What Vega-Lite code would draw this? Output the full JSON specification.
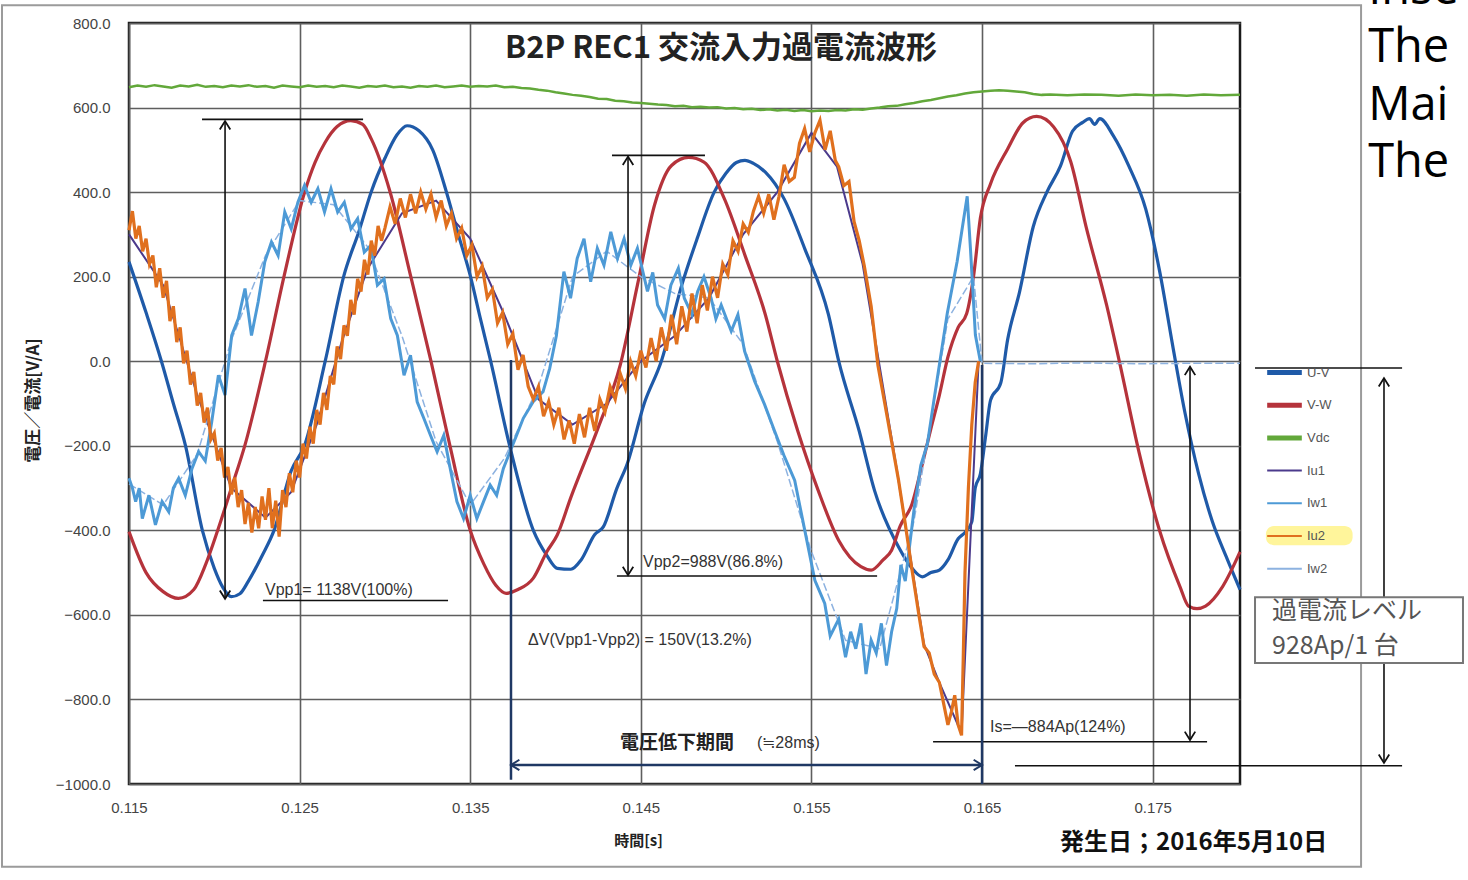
{
"$schema":"https://vega.github.io/schema/vega-lite/v6.json",
"width":1111,"height":761,
"autosize":{"type":"none"},
"padding":{"left":129,"top":23,"right":228,"bottom":96},
"background":"white",
"config":{
 "view":{"stroke":"#1a1a1a","strokeWidth":2.5},
 "axis":{"gridColor":"#5e5e5e","gridWidth":1.6,"gridOpacity":1,"ticks":false,"domain":false,"labelFont":"Liberation Sans","labelFontSize":15,"labelColor":"#444"}
},
"datasets":{
"w":[
{"s":"U-V","t":0.115,"v":235},{"s":"U-V","t":0.116,"v":115},{"s":"U-V","t":0.1169,"v":0},{"s":"U-V","t":0.1176,"v":-100},{"s":"U-V","t":0.1183,"v":-198},{"s":"U-V","t":0.1193,"v":-400},{"s":"U-V","t":0.12,"v":-490},{"s":"U-V","t":0.1205,"v":-535},{"s":"U-V","t":0.121,"v":-557},{"s":"U-V","t":0.1215,"v":-550},{"s":"U-V","t":0.122,"v":-520},{"s":"U-V","t":0.1228,"v":-460},{"s":"U-V","t":0.1235,"v":-400},{"s":"U-V","t":0.1245,"v":-260},{"s":"U-V","t":0.1253,"v":-198},{"s":"U-V","t":0.1265,"v":0},{"s":"U-V","t":0.1276,"v":203},{"s":"U-V","t":0.1285,"v":310},{"s":"U-V","t":0.1292,"v":401},{"s":"U-V","t":0.13,"v":480},{"s":"U-V","t":0.1307,"v":535},{"s":"U-V","t":0.1313,"v":557},{"s":"U-V","t":0.132,"v":545},{"s":"U-V","t":0.1328,"v":500},{"s":"U-V","t":0.1336,"v":401},{"s":"U-V","t":0.1343,"v":300},{"s":"U-V","t":0.135,"v":203},{"s":"U-V","t":0.1356,"v":100},{"s":"U-V","t":0.1362,"v":0},{"s":"U-V","t":0.1373,"v":-198},{"s":"U-V","t":0.1387,"v":-400},{"s":"U-V","t":0.1395,"v":-460},{"s":"U-V","t":0.1401,"v":-490},{"s":"U-V","t":0.1409,"v":-492},{"s":"U-V","t":0.1415,"v":-470},{"s":"U-V","t":0.1423,"v":-410},{"s":"U-V","t":0.1428,"v":-392},{"s":"U-V","t":0.1436,"v":-300},{"s":"U-V","t":0.1442,"v":-243},{"s":"U-V","t":0.1452,"v":-100},{"s":"U-V","t":0.1462,"v":0},{"s":"U-V","t":0.1474,"v":180},{"s":"U-V","t":0.1483,"v":290},{"s":"U-V","t":0.1493,"v":400},{"s":"U-V","t":0.15,"v":445},{"s":"U-V","t":0.1506,"v":470},{"s":"U-V","t":0.1511,"v":475},{"s":"U-V","t":0.1516,"v":468},{"s":"U-V","t":0.1523,"v":447},{"s":"U-V","t":0.1534,"v":384},{"s":"U-V","t":0.1546,"v":267},{"s":"U-V","t":0.156,"v":110},{"s":"U-V","t":0.1566,"v":0},{"s":"U-V","t":0.1578,"v":-165},{"s":"U-V","t":0.1587,"v":-306},{"s":"U-V","t":0.1601,"v":-439},{"s":"U-V","t":0.1609,"v":-490},{"s":"U-V","t":0.1615,"v":-510},{"s":"U-V","t":0.162,"v":-500},{"s":"U-V","t":0.1625,"v":-494},{"s":"U-V","t":0.163,"v":-470},{"s":"U-V","t":0.1636,"v":-420},{"s":"U-V","t":0.164,"v":-405},{"s":"U-V","t":0.1644,"v":-380},{"s":"U-V","t":0.1646,"v":-300},{"s":"U-V","t":0.1649,"v":-267},{"s":"U-V","t":0.1652,"v":-180},{"s":"U-V","t":0.1655,"v":-92},{"s":"U-V","t":0.1661,"v":-51},{"s":"U-V","t":0.1665,"v":51},{"s":"U-V","t":0.1672,"v":164},{"s":"U-V","t":0.168,"v":318},{"s":"U-V","t":0.1688,"v":400},{"s":"U-V","t":0.1696,"v":462},{"s":"U-V","t":0.1703,"v":544},{"s":"U-V","t":0.1709,"v":565},{"s":"U-V","t":0.1713,"v":574},{"s":"U-V","t":0.1716,"v":560},{"s":"U-V","t":0.1719,"v":574},{"s":"U-V","t":0.1727,"v":533},{"s":"U-V","t":0.1736,"v":462},{"s":"U-V","t":0.1746,"v":359},{"s":"U-V","t":0.1754,"v":215},{"s":"U-V","t":0.1762,"v":31},{"s":"U-V","t":0.1769,"v":-123},{"s":"U-V","t":0.1777,"v":-267},{"s":"U-V","t":0.1785,"v":-379},{"s":"U-V","t":0.1793,"v":-461},{"s":"U-V","t":0.18012,"v":-540},
{"s":"V-W","t":0.115,"v":-403},{"s":"V-W","t":0.116,"v":-500},{"s":"V-W","t":0.117,"v":-545},{"s":"V-W","t":0.1179,"v":-561},{"s":"V-W","t":0.1188,"v":-540},{"s":"V-W","t":0.1195,"v":-480},{"s":"V-W","t":0.1202,"v":-400},{"s":"V-W","t":0.121,"v":-300},{"s":"V-W","t":0.1218,"v":-198},{"s":"V-W","t":0.123,"v":0},{"s":"V-W","t":0.1241,"v":203},{"s":"V-W","t":0.1253,"v":401},{"s":"V-W","t":0.1259,"v":470},{"s":"V-W","t":0.1265,"v":518},{"s":"V-W","t":0.1272,"v":555},{"s":"V-W","t":0.128,"v":569},{"s":"V-W","t":0.1287,"v":560},{"s":"V-W","t":0.1292,"v":526},{"s":"V-W","t":0.1303,"v":401},{"s":"V-W","t":0.1315,"v":203},{"s":"V-W","t":0.1327,"v":0},{"s":"V-W","t":0.1338,"v":-198},{"s":"V-W","t":0.135,"v":-400},{"s":"V-W","t":0.1358,"v":-480},{"s":"V-W","t":0.1365,"v":-530},{"s":"V-W","t":0.1371,"v":-549},{"s":"V-W","t":0.1378,"v":-540},{"s":"V-W","t":0.1387,"v":-513},{"s":"V-W","t":0.1395,"v":-450},{"s":"V-W","t":0.1401,"v":-411},{"s":"V-W","t":0.1409,"v":-322},{"s":"V-W","t":0.1425,"v":-157},{"s":"V-W","t":0.1438,"v":-8},{"s":"V-W","t":0.1448,"v":180},{"s":"V-W","t":0.1458,"v":369},{"s":"V-W","t":0.1468,"v":463},{"s":"V-W","t":0.1478,"v":482},{"s":"V-W","t":0.1487,"v":471},{"s":"V-W","t":0.1499,"v":384},{"s":"V-W","t":0.1511,"v":251},{"s":"V-W","t":0.1523,"v":110},{"s":"V-W","t":0.153,"v":0},{"s":"V-W","t":0.1542,"v":-165},{"s":"V-W","t":0.1554,"v":-306},{"s":"V-W","t":0.1566,"v":-424},{"s":"V-W","t":0.1579,"v":-486},{"s":"V-W","t":0.1585,"v":-494},{"s":"V-W","t":0.1592,"v":-470},{"s":"V-W","t":0.1597,"v":-447},{"s":"V-W","t":0.1602,"v":-390},{"s":"V-W","t":0.1609,"v":-337},{"s":"V-W","t":0.1614,"v":-260},{"s":"V-W","t":0.162,"v":-160},{"s":"V-W","t":0.1625,"v":-80},{"s":"V-W","t":0.163,"v":10},{"s":"V-W","t":0.1636,"v":80},{"s":"V-W","t":0.1641,"v":113},{"s":"V-W","t":0.1645,"v":200},{"s":"V-W","t":0.1649,"v":338},{"s":"V-W","t":0.1655,"v":420},{"s":"V-W","t":0.1665,"v":502},{"s":"V-W","t":0.1674,"v":564},{"s":"V-W","t":0.1682,"v":579},{"s":"V-W","t":0.1692,"v":554},{"s":"V-W","t":0.1702,"v":472},{"s":"V-W","t":0.1711,"v":318},{"s":"V-W","t":0.1723,"v":133},{"s":"V-W","t":0.1731,"v":-10},{"s":"V-W","t":0.1742,"v":-215},{"s":"V-W","t":0.1754,"v":-400},{"s":"V-W","t":0.1766,"v":-533},{"s":"V-W","t":0.1771,"v":-579},{"s":"V-W","t":0.1776,"v":-585},{"s":"V-W","t":0.1781,"v":-579},{"s":"V-W","t":0.1791,"v":-533},{"s":"V-W","t":0.18012,"v":-451},
{"s":"Vdc","t":0.115,"v":648},{"s":"Vdc","t":0.1155,"v":652},{"s":"Vdc","t":0.116,"v":649},{"s":"Vdc","t":0.1165,"v":653},{"s":"Vdc","t":0.117,"v":650},{"s":"Vdc","t":0.1175,"v":647},{"s":"Vdc","t":0.118,"v":652},{"s":"Vdc","t":0.1185,"v":650},{"s":"Vdc","t":0.119,"v":654},{"s":"Vdc","t":0.1195,"v":649},{"s":"Vdc","t":0.12,"v":651},{"s":"Vdc","t":0.1205,"v":648},{"s":"Vdc","t":0.121,"v":652},{"s":"Vdc","t":0.1215,"v":650},{"s":"Vdc","t":0.122,"v":653},{"s":"Vdc","t":0.1225,"v":649},{"s":"Vdc","t":0.123,"v":651},{"s":"Vdc","t":0.1235,"v":647},{"s":"Vdc","t":0.124,"v":652},{"s":"Vdc","t":0.1245,"v":650},{"s":"Vdc","t":0.125,"v":648},{"s":"Vdc","t":0.1255,"v":652},{"s":"Vdc","t":0.126,"v":649},{"s":"Vdc","t":0.1265,"v":651},{"s":"Vdc","t":0.127,"v":648},{"s":"Vdc","t":0.1275,"v":652},{"s":"Vdc","t":0.128,"v":650},{"s":"Vdc","t":0.1285,"v":647},{"s":"Vdc","t":0.129,"v":651},{"s":"Vdc","t":0.1295,"v":649},{"s":"Vdc","t":0.13,"v":652},{"s":"Vdc","t":0.1305,"v":648},{"s":"Vdc","t":0.131,"v":650},{"s":"Vdc","t":0.1315,"v":647},{"s":"Vdc","t":0.132,"v":651},{"s":"Vdc","t":0.1325,"v":649},{"s":"Vdc","t":0.133,"v":652},{"s":"Vdc","t":0.1335,"v":648},{"s":"Vdc","t":0.134,"v":650},{"s":"Vdc","t":0.1345,"v":652},{"s":"Vdc","t":0.135,"v":649},{"s":"Vdc","t":0.1355,"v":651},{"s":"Vdc","t":0.136,"v":650},{"s":"Vdc","t":0.1365,"v":652},{"s":"Vdc","t":0.137,"v":648},{"s":"Vdc","t":0.1375,"v":649},{"s":"Vdc","t":0.138,"v":646},{"s":"Vdc","t":0.1385,"v":645},{"s":"Vdc","t":0.139,"v":642},{"s":"Vdc","t":0.1395,"v":640},{"s":"Vdc","t":0.14,"v":636},{"s":"Vdc","t":0.1405,"v":633},{"s":"Vdc","t":0.141,"v":630},{"s":"Vdc","t":0.1415,"v":628},{"s":"Vdc","t":0.142,"v":625},{"s":"Vdc","t":0.1425,"v":621},{"s":"Vdc","t":0.143,"v":620},{"s":"Vdc","t":0.1435,"v":616},{"s":"Vdc","t":0.144,"v":615},{"s":"Vdc","t":0.1445,"v":612},{"s":"Vdc","t":0.145,"v":611},{"s":"Vdc","t":0.1455,"v":609},{"s":"Vdc","t":0.146,"v":607},{"s":"Vdc","t":0.1465,"v":606},{"s":"Vdc","t":0.147,"v":603},{"s":"Vdc","t":0.1475,"v":604},{"s":"Vdc","t":0.148,"v":601},{"s":"Vdc","t":0.1485,"v":602},{"s":"Vdc","t":0.149,"v":600},{"s":"Vdc","t":0.1495,"v":601},{"s":"Vdc","t":0.15,"v":598},{"s":"Vdc","t":0.1505,"v":599},{"s":"Vdc","t":0.151,"v":596},{"s":"Vdc","t":0.1515,"v":597},{"s":"Vdc","t":0.152,"v":594},{"s":"Vdc","t":0.1525,"v":596},{"s":"Vdc","t":0.153,"v":593},{"s":"Vdc","t":0.1535,"v":595},{"s":"Vdc","t":0.154,"v":592},{"s":"Vdc","t":0.1545,"v":594},{"s":"Vdc","t":0.155,"v":591},{"s":"Vdc","t":0.1555,"v":593},{"s":"Vdc","t":0.156,"v":592},{"s":"Vdc","t":0.1565,"v":594},{"s":"Vdc","t":0.157,"v":593},{"s":"Vdc","t":0.1575,"v":596},{"s":"Vdc","t":0.158,"v":595},{"s":"Vdc","t":0.1585,"v":598},{"s":"Vdc","t":0.159,"v":600},{"s":"Vdc","t":0.1595,"v":603},{"s":"Vdc","t":0.16,"v":604},{"s":"Vdc","t":0.1605,"v":608},{"s":"Vdc","t":0.161,"v":611},{"s":"Vdc","t":0.1615,"v":615},{"s":"Vdc","t":0.162,"v":618},{"s":"Vdc","t":0.1625,"v":622},{"s":"Vdc","t":0.163,"v":626},{"s":"Vdc","t":0.1635,"v":629},{"s":"Vdc","t":0.164,"v":633},{"s":"Vdc","t":0.1645,"v":636},{"s":"Vdc","t":0.165,"v":638},{"s":"Vdc","t":0.1655,"v":640},{"s":"Vdc","t":0.166,"v":641},{"s":"Vdc","t":0.1665,"v":640},{"s":"Vdc","t":0.167,"v":638},{"s":"Vdc","t":0.1675,"v":636},{"s":"Vdc","t":0.168,"v":632},{"s":"Vdc","t":0.1685,"v":630},{"s":"Vdc","t":0.169,"v":631},{"s":"Vdc","t":0.17,"v":629},{"s":"Vdc","t":0.171,"v":631},{"s":"Vdc","t":0.172,"v":630},{"s":"Vdc","t":0.173,"v":628},{"s":"Vdc","t":0.174,"v":631},{"s":"Vdc","t":0.175,"v":629},{"s":"Vdc","t":0.176,"v":630},{"s":"Vdc","t":0.177,"v":628},{"s":"Vdc","t":0.178,"v":631},{"s":"Vdc","t":0.179,"v":629},{"s":"Vdc","t":0.18012,"v":630},
{"s":"Iu1","t":0.115,"v":300},{"s":"Iu1","t":0.117,"v":180},{"s":"Iu1","t":0.119,"v":-80},{"s":"Iu1","t":0.121,"v":-300},{"s":"Iu1","t":0.123,"v":-370},{"s":"Iu1","t":0.1245,"v":-310},{"s":"Iu1","t":0.126,"v":-150},{"s":"Iu1","t":0.1275,"v":50},{"s":"Iu1","t":0.129,"v":220},{"s":"Iu1","t":0.131,"v":350},{"s":"Iu1","t":0.133,"v":380},{"s":"Iu1","t":0.135,"v":290},{"s":"Iu1","t":0.137,"v":110},{"s":"Iu1","t":0.139,"v":-90},{"s":"Iu1","t":0.141,"v":-150},{"s":"Iu1","t":0.143,"v":-100},{"s":"Iu1","t":0.145,"v":0},{"s":"Iu1","t":0.147,"v":60},{"s":"Iu1","t":0.149,"v":150},{"s":"Iu1","t":0.151,"v":300},{"s":"Iu1","t":0.153,"v":400},{"s":"Iu1","t":0.155,"v":540},{"s":"Iu1","t":0.1565,"v":460},{"s":"Iu1","t":0.158,"v":230},{"s":"Iu1","t":0.16,"v":-255},{"s":"Iu1","t":0.1616,"v":-670},{"s":"Iu1","t":0.1625,"v":-760},{"s":"Iu1","t":0.1638,"v":-880},{"s":"Iu1","t":0.1648,"v":0},
{"s":"Iw1","t":0.115,"v":-277},{"s":"Iw1","t":0.1152,"v":-300},{"s":"Iw1","t":0.11539,"v":-332},{"s":"Iw1","t":0.1156,"v":-300},{"s":"Iw1","t":0.11578,"v":-372},{"s":"Iw1","t":0.11617,"v":-317},{"s":"Iw1","t":0.1164,"v":-360},{"s":"Iw1","t":0.11655,"v":-387},{"s":"Iw1","t":0.11694,"v":-332},{"s":"Iw1","t":0.11733,"v":-356},{"s":"Iw1","t":0.1176,"v":-300},{"s":"Iw1","t":0.11791,"v":-277},{"s":"Iw1","t":0.1183,"v":-317},{"s":"Iw1","t":0.11869,"v":-254},{"s":"Iw1","t":0.11908,"v":-214},{"s":"Iw1","t":0.11947,"v":-236},{"s":"Iw1","t":0.11985,"v":-143},{"s":"Iw1","t":0.12024,"v":-33},{"s":"Iw1","t":0.12063,"v":-80},{"s":"Iw1","t":0.12102,"v":61},{"s":"Iw1","t":0.12141,"v":101},{"s":"Iw1","t":0.1218,"v":172},{"s":"Iw1","t":0.12218,"v":61},{"s":"Iw1","t":0.12257,"v":140},{"s":"Iw1","t":0.12296,"v":235},{"s":"Iw1","t":0.12335,"v":282},{"s":"Iw1","t":0.12374,"v":250},{"s":"Iw1","t":0.12413,"v":353},{"s":"Iw1","t":0.12451,"v":313},{"s":"Iw1","t":0.1249,"v":376},{"s":"Iw1","t":0.12529,"v":416},{"s":"Iw1","t":0.12568,"v":376},{"s":"Iw1","t":0.12607,"v":408},{"s":"Iw1","t":0.12646,"v":353},{"s":"Iw1","t":0.12684,"v":408},{"s":"Iw1","t":0.12723,"v":353},{"s":"Iw1","t":0.12762,"v":376},{"s":"Iw1","t":0.12801,"v":313},{"s":"Iw1","t":0.1284,"v":337},{"s":"Iw1","t":0.12879,"v":258},{"s":"Iw1","t":0.12917,"v":274},{"s":"Iw1","t":0.12956,"v":180},{"s":"Iw1","t":0.12995,"v":195},{"s":"Iw1","t":0.13034,"v":101},{"s":"Iw1","t":0.13073,"v":61},{"s":"Iw1","t":0.13112,"v":-33},{"s":"Iw1","t":0.1315,"v":14},{"s":"Iw1","t":0.13189,"v":-96},{"s":"Iw1","t":0.13228,"v":-135},{"s":"Iw1","t":0.13267,"v":-175},{"s":"Iw1","t":0.13306,"v":-214},{"s":"Iw1","t":0.13345,"v":-175},{"s":"Iw1","t":0.13383,"v":-254},{"s":"Iw1","t":0.13422,"v":-332},{"s":"Iw1","t":0.13461,"v":-372},{"s":"Iw1","t":0.135,"v":-317},{"s":"Iw1","t":0.13539,"v":-372},{"s":"Iw1","t":0.13578,"v":-332},{"s":"Iw1","t":0.13617,"v":-293},{"s":"Iw1","t":0.13655,"v":-317},{"s":"Iw1","t":0.13694,"v":-254},{"s":"Iw1","t":0.13733,"v":-214},{"s":"Iw1","t":0.13772,"v":-175},{"s":"Iw1","t":0.13811,"v":-135},{"s":"Iw1","t":0.13869,"v":-96},{"s":"Iw1","t":0.13927,"v":-72},{"s":"Iw1","t":0.13966,"v":-17},{"s":"Iw1","t":0.14005,"v":60},{"s":"Iw1","t":0.14049,"v":212},{"s":"Iw1","t":0.14088,"v":149},{"s":"Iw1","t":0.14127,"v":243},{"s":"Iw1","t":0.14167,"v":290},{"s":"Iw1","t":0.14206,"v":188},{"s":"Iw1","t":0.14245,"v":267},{"s":"Iw1","t":0.14284,"v":227},{"s":"Iw1","t":0.14324,"v":306},{"s":"Iw1","t":0.14363,"v":243},{"s":"Iw1","t":0.14402,"v":290},{"s":"Iw1","t":0.14441,"v":227},{"s":"Iw1","t":0.1448,"v":267},{"s":"Iw1","t":0.14539,"v":165},{"s":"Iw1","t":0.1457,"v":210},{"s":"Iw1","t":0.14598,"v":133},{"s":"Iw1","t":0.1464,"v":100},{"s":"Iw1","t":0.14676,"v":180},{"s":"Iw1","t":0.1472,"v":220},{"s":"Iw1","t":0.14755,"v":149},{"s":"Iw1","t":0.148,"v":110},{"s":"Iw1","t":0.14833,"v":165},{"s":"Iw1","t":0.1487,"v":200},{"s":"Iw1","t":0.14912,"v":149},{"s":"Iw1","t":0.1494,"v":100},{"s":"Iw1","t":0.14971,"v":133},{"s":"Iw1","t":0.1503,"v":71},{"s":"Iw1","t":0.15069,"v":110},{"s":"Iw1","t":0.15108,"v":24},{"s":"Iw1","t":0.15167,"v":-47},{"s":"Iw1","t":0.15225,"v":-102},{"s":"Iw1","t":0.15284,"v":-165},{"s":"Iw1","t":0.15343,"v":-227},{"s":"Iw1","t":0.15402,"v":-282},{"s":"Iw1","t":0.15461,"v":-400},{"s":"Iw1","t":0.1552,"v":-518},{"s":"Iw1","t":0.15578,"v":-573},{"s":"Iw1","t":0.1561,"v":-650},{"s":"Iw1","t":0.1566,"v":-610},{"s":"Iw1","t":0.157,"v":-700},{"s":"Iw1","t":0.1573,"v":-640},{"s":"Iw1","t":0.1576,"v":-680},{"s":"Iw1","t":0.1579,"v":-620},{"s":"Iw1","t":0.1582,"v":-740},{"s":"Iw1","t":0.1585,"v":-660},{"s":"Iw1","t":0.1588,"v":-690},{"s":"Iw1","t":0.1591,"v":-620},{"s":"Iw1","t":0.1594,"v":-720},{"s":"Iw1","t":0.1597,"v":-640},{"s":"Iw1","t":0.16,"v":-585},{"s":"Iw1","t":0.16024,"v":-482},{"s":"Iw1","t":0.1605,"v":-520},{"s":"Iw1","t":0.16102,"v":-349},{"s":"Iw1","t":0.16141,"v":-246},{"s":"Iw1","t":0.1618,"v":-195},{"s":"Iw1","t":0.16218,"v":-92},{"s":"Iw1","t":0.16257,"v":10},{"s":"Iw1","t":0.16296,"v":113},{"s":"Iw1","t":0.16354,"v":236},{"s":"Iw1","t":0.16393,"v":338},{"s":"Iw1","t":0.16413,"v":390},{"s":"Iw1","t":0.16432,"v":267},{"s":"Iw1","t":0.16461,"v":62},{"s":"Iw1","t":0.1649,"v":0},
{"s":"Iu2","t":0.115,"v":310},{"s":"Iu2","t":0.1152,"v":355},{"s":"Iu2","t":0.1154,"v":290},{"s":"Iu2","t":0.1156,"v":320},{"s":"Iu2","t":0.1158,"v":260},{"s":"Iu2","t":0.116,"v":290},{"s":"Iu2","t":0.1162,"v":230},{"s":"Iu2","t":0.1164,"v":250},{"s":"Iu2","t":0.1166,"v":175},{"s":"Iu2","t":0.1168,"v":220},{"s":"Iu2","t":0.117,"v":150},{"s":"Iu2","t":0.1172,"v":190},{"s":"Iu2","t":0.1174,"v":95},{"s":"Iu2","t":0.1176,"v":130},{"s":"Iu2","t":0.1178,"v":45},{"s":"Iu2","t":0.118,"v":80},{"s":"Iu2","t":0.1182,"v":-5},{"s":"Iu2","t":0.1184,"v":25},{"s":"Iu2","t":0.1186,"v":-55},{"s":"Iu2","t":0.1188,"v":-25},{"s":"Iu2","t":0.119,"v":-105},{"s":"Iu2","t":0.1192,"v":-75},{"s":"Iu2","t":0.1194,"v":-145},{"s":"Iu2","t":0.1196,"v":-110},{"s":"Iu2","t":0.1198,"v":-185},{"s":"Iu2","t":0.12,"v":-170},{"s":"Iu2","t":0.1202,"v":-235},{"s":"Iu2","t":0.1204,"v":-205},{"s":"Iu2","t":0.1206,"v":-275},{"s":"Iu2","t":0.1208,"v":-250},{"s":"Iu2","t":0.121,"v":-315},{"s":"Iu2","t":0.1212,"v":-275},{"s":"Iu2","t":0.1214,"v":-345},{"s":"Iu2","t":0.1216,"v":-305},{"s":"Iu2","t":0.1218,"v":-385},{"s":"Iu2","t":0.122,"v":-335},{"s":"Iu2","t":0.1222,"v":-405},{"s":"Iu2","t":0.1224,"v":-345},{"s":"Iu2","t":0.1226,"v":-395},{"s":"Iu2","t":0.1228,"v":-320},{"s":"Iu2","t":0.123,"v":-375},{"s":"Iu2","t":0.1232,"v":-300},{"s":"Iu2","t":0.1234,"v":-395},{"s":"Iu2","t":0.1236,"v":-330},{"s":"Iu2","t":0.1238,"v":-415},{"s":"Iu2","t":0.124,"v":-305},{"s":"Iu2","t":0.1242,"v":-345},{"s":"Iu2","t":0.1244,"v":-265},{"s":"Iu2","t":0.1246,"v":-310},{"s":"Iu2","t":0.1248,"v":-235},{"s":"Iu2","t":0.125,"v":-275},{"s":"Iu2","t":0.1252,"v":-195},{"s":"Iu2","t":0.1254,"v":-230},{"s":"Iu2","t":0.1256,"v":-155},{"s":"Iu2","t":0.1258,"v":-195},{"s":"Iu2","t":0.126,"v":-115},{"s":"Iu2","t":0.1262,"v":-150},{"s":"Iu2","t":0.1264,"v":-75},{"s":"Iu2","t":0.1266,"v":-115},{"s":"Iu2","t":0.1268,"v":-35},{"s":"Iu2","t":0.127,"v":-55},{"s":"Iu2","t":0.1272,"v":35},{"s":"Iu2","t":0.1274,"v":5},{"s":"Iu2","t":0.1276,"v":85},{"s":"Iu2","t":0.1278,"v":60},{"s":"Iu2","t":0.128,"v":145},{"s":"Iu2","t":0.1282,"v":110},{"s":"Iu2","t":0.1284,"v":195},{"s":"Iu2","t":0.1286,"v":165},{"s":"Iu2","t":0.1288,"v":240},{"s":"Iu2","t":0.129,"v":205},{"s":"Iu2","t":0.1292,"v":285},{"s":"Iu2","t":0.1294,"v":250},{"s":"Iu2","t":0.1296,"v":320},{"s":"Iu2","t":0.1298,"v":285},{"s":"Iu2","t":0.13,"v":315},{"s":"Iu2","t":0.1303,"v":365},{"s":"Iu2","t":0.1306,"v":325},{"s":"Iu2","t":0.1309,"v":385},{"s":"Iu2","t":0.1312,"v":340},{"s":"Iu2","t":0.1315,"v":395},{"s":"Iu2","t":0.1318,"v":350},{"s":"Iu2","t":0.1321,"v":400},{"s":"Iu2","t":0.1324,"v":360},{"s":"Iu2","t":0.1327,"v":395},{"s":"Iu2","t":0.133,"v":340},{"s":"Iu2","t":0.1333,"v":380},{"s":"Iu2","t":0.1336,"v":320},{"s":"Iu2","t":0.1339,"v":350},{"s":"Iu2","t":0.1342,"v":290},{"s":"Iu2","t":0.1345,"v":315},{"s":"Iu2","t":0.1348,"v":250},{"s":"Iu2","t":0.1351,"v":275},{"s":"Iu2","t":0.1354,"v":200},{"s":"Iu2","t":0.1357,"v":225},{"s":"Iu2","t":0.136,"v":150},{"s":"Iu2","t":0.1363,"v":170},{"s":"Iu2","t":0.1366,"v":90},{"s":"Iu2","t":0.1369,"v":115},{"s":"Iu2","t":0.1372,"v":40},{"s":"Iu2","t":0.1375,"v":65},{"s":"Iu2","t":0.1378,"v":-20},{"s":"Iu2","t":0.1381,"v":15},{"s":"Iu2","t":0.1384,"v":-60},{"s":"Iu2","t":0.1387,"v":-90},{"s":"Iu2","t":0.139,"v":-60},{"s":"Iu2","t":0.1393,"v":-130},{"s":"Iu2","t":0.1396,"v":-95},{"s":"Iu2","t":0.1399,"v":-150},{"s":"Iu2","t":0.1402,"v":-110},{"s":"Iu2","t":0.1405,"v":-185},{"s":"Iu2","t":0.1408,"v":-140},{"s":"Iu2","t":0.1411,"v":-195},{"s":"Iu2","t":0.1414,"v":-125},{"s":"Iu2","t":0.1417,"v":-180},{"s":"Iu2","t":0.142,"v":-110},{"s":"Iu2","t":0.1423,"v":-165},{"s":"Iu2","t":0.1426,"v":-90},{"s":"Iu2","t":0.1429,"v":-120},{"s":"Iu2","t":0.1432,"v":-60},{"s":"Iu2","t":0.1435,"v":-90},{"s":"Iu2","t":0.1438,"v":-30},{"s":"Iu2","t":0.1441,"v":-65},{"s":"Iu2","t":0.1444,"v":0},{"s":"Iu2","t":0.1447,"v":-35},{"s":"Iu2","t":0.145,"v":25},{"s":"Iu2","t":0.1453,"v":-15},{"s":"Iu2","t":0.1456,"v":55},{"s":"Iu2","t":0.1459,"v":0},{"s":"Iu2","t":0.1462,"v":80},{"s":"Iu2","t":0.1465,"v":25},{"s":"Iu2","t":0.1468,"v":110},{"s":"Iu2","t":0.1471,"v":40},{"s":"Iu2","t":0.1474,"v":130},{"s":"Iu2","t":0.1477,"v":70},{"s":"Iu2","t":0.148,"v":160},{"s":"Iu2","t":0.1483,"v":90},{"s":"Iu2","t":0.1486,"v":180},{"s":"Iu2","t":0.1489,"v":120},{"s":"Iu2","t":0.1492,"v":200},{"s":"Iu2","t":0.1495,"v":150},{"s":"Iu2","t":0.1498,"v":230},{"s":"Iu2","t":0.1501,"v":205},{"s":"Iu2","t":0.1504,"v":285},{"s":"Iu2","t":0.1507,"v":260},{"s":"Iu2","t":0.151,"v":325},{"s":"Iu2","t":0.1513,"v":305},{"s":"Iu2","t":0.1516,"v":355},{"s":"Iu2","t":0.1519,"v":390},{"s":"Iu2","t":0.1522,"v":350},{"s":"Iu2","t":0.1525,"v":395},{"s":"Iu2","t":0.1528,"v":335},{"s":"Iu2","t":0.1531,"v":390},{"s":"Iu2","t":0.1534,"v":465},{"s":"Iu2","t":0.1537,"v":425},{"s":"Iu2","t":0.154,"v":435},{"s":"Iu2","t":0.1543,"v":515},{"s":"Iu2","t":0.1546,"v":550},{"s":"Iu2","t":0.1549,"v":495},{"s":"Iu2","t":0.1552,"v":540},{"s":"Iu2","t":0.1555,"v":570},{"s":"Iu2","t":0.1558,"v":500},{"s":"Iu2","t":0.1561,"v":545},{"s":"Iu2","t":0.1564,"v":475},{"s":"Iu2","t":0.1566,"v":460},{"s":"Iu2","t":0.1569,"v":415},{"s":"Iu2","t":0.1572,"v":425},{"s":"Iu2","t":0.1575,"v":330},{"s":"Iu2","t":0.1578,"v":285},{"s":"Iu2","t":0.1581,"v":225},{"s":"Iu2","t":0.1585,"v":130},{"s":"Iu2","t":0.1589,"v":-10},{"s":"Iu2","t":0.1593,"v":-100},{"s":"Iu2","t":0.1597,"v":-190},{"s":"Iu2","t":0.1601,"v":-280},{"s":"Iu2","t":0.1605,"v":-385},{"s":"Iu2","t":0.1609,"v":-495},{"s":"Iu2","t":0.1613,"v":-600},{"s":"Iu2","t":0.1616,"v":-675},{"s":"Iu2","t":0.1619,"v":-690},{"s":"Iu2","t":0.1622,"v":-740},{"s":"Iu2","t":0.1625,"v":-760},{"s":"Iu2","t":0.1628,"v":-820},{"s":"Iu2","t":0.163,"v":-860},{"s":"Iu2","t":0.1632,"v":-830},{"s":"Iu2","t":0.1634,"v":-790},{"s":"Iu2","t":0.1636,"v":-860},{"s":"Iu2","t":0.1638,"v":-885},{"s":"Iu2","t":0.1639,"v":-700},{"s":"Iu2","t":0.164,"v":-500},{"s":"Iu2","t":0.1642,"v":-300},{"s":"Iu2","t":0.1644,"v":-150},{"s":"Iu2","t":0.1646,"v":-50},{"s":"Iu2","t":0.1648,"v":0},
{"s":"Iw2","t":0.115,"v":-290},{"s":"Iw2","t":0.117,"v":-340},{"s":"Iw2","t":0.119,"v":-220},{"s":"Iw2","t":0.121,"v":50},{"s":"Iw2","t":0.123,"v":250},{"s":"Iw2","t":0.125,"v":380},{"s":"Iw2","t":0.127,"v":370},{"s":"Iw2","t":0.129,"v":270},{"s":"Iw2","t":0.131,"v":60},{"s":"Iw2","t":0.133,"v":-190},{"s":"Iw2","t":0.135,"v":-340},{"s":"Iw2","t":0.137,"v":-230},{"s":"Iw2","t":0.139,"v":-60},{"s":"Iw2","t":0.141,"v":200},{"s":"Iw2","t":0.143,"v":260},{"s":"Iw2","t":0.145,"v":200},{"s":"Iw2","t":0.147,"v":160},{"s":"Iw2","t":0.149,"v":150},{"s":"Iw2","t":0.151,"v":40},{"s":"Iw2","t":0.153,"v":-190},{"s":"Iw2","t":0.155,"v":-450},{"s":"Iw2","t":0.157,"v":-660},{"s":"Iw2","t":0.159,"v":-680},{"s":"Iw2","t":0.161,"v":-380},{"s":"Iw2","t":0.163,"v":100},{"s":"Iw2","t":0.1645,"v":200},{"s":"Iw2","t":0.165,"v":-5},{"s":"Iw2","t":0.168,"v":-6},{"s":"Iw2","t":0.171,"v":-4},{"s":"Iw2","t":0.174,"v":-6},{"s":"Iw2","t":0.177,"v":-5},{"s":"Iw2","t":0.18012,"v":-5}
],
"frame":[{"t":0.107556,"t2":0.187216,"v":842,"v2":-1196}],
"box":[{"t":0.181,"t2":0.19319,"v":-558,"v2":-714}],
"hl":[{"t":0.18164,"t2":0.18672,"v":-390,"v2":-435}],
"blk":[
{"t":0.12063,"t2":0.12063,"v":568,"v2":-562},
{"t":0.11928,"t2":0.12872,"v":572,"v2":572},
{"t":0.12285,"t2":0.1337,"v":-566,"v2":-566},
{"t":0.14425,"t2":0.14425,"v":484,"v2":-506},
{"t":0.14331,"t2":0.14876,"v":487,"v2":487},
{"t":0.1436,"t2":0.15885,"v":-508,"v2":-508},
{"t":0.16213,"t2":0.17819,"v":-900,"v2":-900},
{"t":0.17719,"t2":0.17719,"v":-13,"v2":-896},
{"t":0.181,"t2":0.18962,"v":-16,"v2":-16},
{"t":0.18856,"t2":0.18856,"v":-40,"v2":-558},
{"t":0.18856,"t2":0.18856,"v":-714,"v2":-950},
{"t":0.16693,"t2":0.18962,"v":-957,"v2":-957}],
"nav":[
{"t":0.13739,"t2":0.13739,"v":3,"v2":-990},
{"t":0.165,"t2":0.165,"v":-9,"v2":-1000},
{"t":0.13739,"t2":0.165,"v":-955,"v2":-955}],
"up":[{"t":0.12063,"v":568},{"t":0.14425,"v":484},{"t":0.17719,"v":-13},{"t":0.18856,"v":-40}],
"dn":[{"t":0.12063,"v":-562},{"t":0.14425,"v":-506},{"t":0.17719,"v":-896},{"t":0.18856,"v":-950}],
"lf":[{"t":0.13739,"v":-955}],
"rt":[{"t":0.165,"v":-955}],
"txt":[
{"t":0.12297,"v":-541,"label":"Vpp1= 1138V(100%)"},
{"t":0.14513,"v":-475,"label":"Vpp2=988V(86.8%)"},
{"t":0.13839,"v":-659,"label":"ΔV(Vpp1-Vpp2) =  150V(13.2%)"},
{"t":0.15181,"v":-903,"label":"(≒28ms)"},
{"t":0.16547,"v":-865,"label":"Is=—884Ap(124%)"}],
"bold":[{"t":0.14378,"v":-903,"label":"電圧低下期間"}],
"title":[{"t":0.13704,"v":738,"label":"B2P  REC1 交流入力過電流波形"}],
"date":[{"t":0.16957,"v":-1139,"label":"発生日；2016年5月10日"}],
"boxt":[{"t":0.182,"v":-590,"label":"過電流レベル"},{"t":0.182,"v":-674,"label":"928Ap/1 台"}],
"slide":[{"t":0.18763,"v":845,"label":"Inse"},{"t":0.18763,"v":708,"label":"The"},{"t":0.18763,"v":571,"label":"Mai"},{"t":0.18763,"v":436,"label":"The"}]
},
"encoding":{
 "x":{"field":"t","type":"quantitative","scale":{"domain":[0.115,0.18012],"nice":false,"zero":false},
  "axis":{"values":[0.115,0.125,0.135,0.145,0.155,0.165,0.175],"format":".3f","labelPadding":16,"labelFlush":false,"labelBound":false,
   "title":"時間[s]","titleFont":"Noto Sans CJK JP","titleFontSize":15,"titleFontWeight":"bold","titleColor":"#222","titleX":509,"titleY":56,"titleBaseline":"middle","titleAlign":"center"}},
 "y":{"field":"v","type":"quantitative","scale":{"domain":[-1000,800],"nice":false,"zero":false},
  "axis":{"values":[-1000,-800,-600,-400,-200,0,200,400,600,800],"format":".1f","labelPadding":19,
   "title":"電圧／電流[V/A]","titleFont":"Noto Sans CJK JP","titleFontSize":17,"titleFontWeight":"bold","titleColor":"#222","titleX":-96,"titleY":377,"titleAngle":270,"titleAlign":"center","titleBaseline":"middle"}}
},
"layer":[
{"data":{"name":"frame"},"mark":{"type":"rect","fill":null,"fillOpacity":0,"stroke":"#9b9b9b","strokeWidth":2},
 "encoding":{"x2":{"field":"t2"},"y2":{"field":"v2"}}},
{"data":{"name":"hl"},"mark":{"type":"rect","fill":"#fff27a","opacity":0.75,"cornerRadius":8},
 "encoding":{"x2":{"field":"t2"},"y2":{"field":"v2"}}},
{"data":{"name":"w"},"transform":[{"filter":{"field":"s","oneOf":["U-V","V-W"]}}],
 "mark":{"type":"line","strokeWidth":3.2,"interpolate":"monotone"},
 "encoding":{"color":{"field":"s","type":"nominal",
   "scale":{"domain":["U-V","V-W","Vdc","Iu1","Iw1","Iu2","Iw2"],"range":["#1f5aa8","#b5333b","#62a83a","#4b3a8c","#4d9ad6","#e0701e","#8db2e0"]},
   "legend":{"orient":"none","legendX":1149,"legendY":343,"title":null,"symbolType":"stroke","symbolSize":1200,"symbolStrokeWidth":3,
    "labelFontSize":13,"labelColor":"#555","labelFont":"Liberation Sans","rowPadding":11.7,"gridAlign":"all","padding":0,"labelOffset":16,
    "encode":{"symbols":{"update":{"strokeWidth":{"signal":"indexof(['U-V','V-W','Vdc'], datum.value) >= 0 ? 5 : 2"}}}}}},
  "order":{"field":"t","type":"quantitative"}}},
{"data":{"name":"w"},"transform":[{"filter":{"field":"s","equal":"Vdc"}}],
 "mark":{"type":"line","strokeWidth":2.5},
 "encoding":{"color":{"field":"s","type":"nominal"},"order":{"field":"t","type":"quantitative"}}},
{"data":{"name":"w"},"transform":[{"filter":{"field":"s","equal":"Iu1"}}],
 "mark":{"type":"line","strokeWidth":2},
 "encoding":{"color":{"field":"s","type":"nominal"},"order":{"field":"t","type":"quantitative"}}},
{"data":{"name":"w"},"transform":[{"filter":{"field":"s","equal":"Iw2"}}],
 "mark":{"type":"line","strokeWidth":1.5,"strokeDash":[8,3]},
 "encoding":{"color":{"field":"s","type":"nominal"},"order":{"field":"t","type":"quantitative"}}},
{"data":{"name":"w"},"transform":[{"filter":{"field":"s","equal":"Iw1"}}],
 "mark":{"type":"line","strokeWidth":3},
 "encoding":{"color":{"field":"s","type":"nominal"},"order":{"field":"t","type":"quantitative"}}},
{"data":{"name":"w"},"transform":[{"filter":{"field":"s","equal":"Iu2"}}],
 "mark":{"type":"line","strokeWidth":3.2},
 "encoding":{"color":{"field":"s","type":"nominal"},"order":{"field":"t","type":"quantitative"}}},
{"data":{"name":"blk"},"mark":{"type":"rule","color":"#111","strokeWidth":1.6},
 "encoding":{"x2":{"field":"t2"},"y2":{"field":"v2"}}},
{"data":{"name":"nav"},"mark":{"type":"rule","color":"#1f3864","strokeWidth":2.5},
 "encoding":{"x2":{"field":"t2"},"y2":{"field":"v2"}}},
{"data":{"name":"up"},"mark":{"type":"point","shape":"M-1,1.6L0,0L1,1.6","size":110,"filled":false,"stroke":"#111","strokeWidth":1.8,"opacity":1},"encoding":{}},
{"data":{"name":"dn"},"mark":{"type":"point","shape":"M-1,-1.6L0,0L1,-1.6","size":110,"filled":false,"stroke":"#111","strokeWidth":1.8,"opacity":1},"encoding":{}},
{"data":{"name":"lf"},"mark":{"type":"point","shape":"M1.6,-1L0,0L1.6,1","size":110,"filled":false,"stroke":"#1f3864","strokeWidth":2,"opacity":1},"encoding":{}},
{"data":{"name":"rt"},"mark":{"type":"point","shape":"M-1.6,-1L0,0L-1.6,1","size":110,"filled":false,"stroke":"#1f3864","strokeWidth":2,"opacity":1},"encoding":{}},
{"data":{"name":"box"},"mark":{"type":"rect","fill":"white","stroke":"#777","strokeWidth":2},
 "encoding":{"x2":{"field":"t2"},"y2":{"field":"v2"}}},
{"data":{"name":"txt"},"mark":{"type":"text","align":"left","baseline":"middle","font":"Liberation Sans","fontSize":16,"color":"#333"},
 "encoding":{"text":{"field":"label"}}},
{"data":{"name":"bold"},"mark":{"type":"text","align":"left","baseline":"middle","font":"Noto Sans CJK JP","fontWeight":"bold","fontSize":19,"color":"#222"},
 "encoding":{"text":{"field":"label"}}},
{"data":{"name":"title"},"mark":{"type":"text","align":"left","baseline":"middle","font":"Noto Sans CJK JP","fontWeight":"bold","fontSize":31,"color":"#222"},
 "encoding":{"text":{"field":"label"}}},
{"data":{"name":"date"},"mark":{"type":"text","align":"left","baseline":"middle","font":"Noto Sans CJK JP","fontWeight":"bold","fontSize":24,"color":"#111"},
 "encoding":{"text":{"field":"label"}}},
{"data":{"name":"boxt"},"mark":{"type":"text","align":"left","baseline":"middle","font":"Noto Sans CJK JP","fontSize":25,"color":"#555"},
 "encoding":{"text":{"field":"label"}}},
{"data":{"name":"slide"},"mark":{"type":"text","align":"left","baseline":"alphabetic","font":"Open Sans","fontSize":47,"color":"#000"},
 "encoding":{"text":{"field":"label"}}}
]
}
